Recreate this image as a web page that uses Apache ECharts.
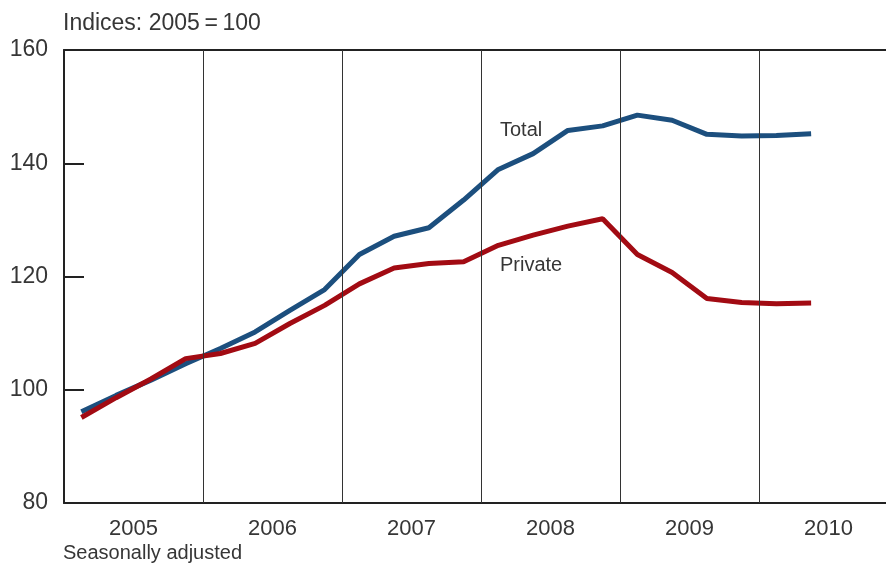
<!DOCTYPE html>
<html>
<head>
<meta charset="utf-8">
<script src="https://cdn.jsdelivr.net/npm/echarts@6/dist/echarts.min.js"></script>
<style>
html,body{margin:0;padding:0;background:#fff;}
#c{width:886px;height:565px;}
</style>
</head>
<body>
<div id="c"></div>
<script>
// Quarterly index values, 2005 Q1 to 2010 Q2 (2005 = 100)
var quarters = [
  '2005Q1','2005Q2','2005Q3','2005Q4',
  '2006Q1','2006Q2','2006Q3','2006Q4',
  '2007Q1','2007Q2','2007Q3','2007Q4',
  '2008Q1','2008Q2','2008Q3','2008Q4',
  '2009Q1','2009Q2','2009Q3','2009Q4',
  '2010Q1','2010Q2'
];
var totalValues = [
  96.1, 99.0, 101.7, 104.6,
  107.3, 110.2, 114.0, 117.7,
  123.9, 127.1, 128.6, 133.5,
  138.9, 141.7, 145.8, 146.6,
  148.5, 147.6, 145.1, 144.8,
  144.9, 145.2
];
var privateValues = [
  95.1, 98.6, 101.9, 105.5,
  106.4, 108.2, 111.7, 114.9,
  118.7, 121.5, 122.3, 122.6,
  125.5, 127.3, 128.9, 130.2,
  123.9, 120.7, 116.1, 115.4,
  115.2, 115.3
];
var yearLabels = ['2005','2006','2007','2008','2009','2010'];
var yearBoundaries = [2006, 2007, 2008, 2009, 2010];
var yTicks = [80, 100, 120, 140, 160];

function qToX(q) {
  var y = parseInt(q.slice(0, 4), 10);
  var n = parseInt(q.slice(5), 10);
  return y + (n - 0.5) / 4;
}
var totalData = quarters.map(function (q, i) { return [qToX(q), totalValues[i]]; });
var privateData = quarters.map(function (q, i) { return [qToX(q), privateValues[i]]; });

var FONT = 'Liberation Sans, Arial, sans-serif';
var TXT = '#363636';
var xMin = 2005, xMax = 2005 + 822 / 139;

var chart = echarts.init(document.getElementById('c'), null, {renderer: 'canvas'});
chart.setOption({
  animation: false,
  backgroundColor: '#ffffff',
  grid: {left: 64, right: 0, top: 50, bottom: 62},
  xAxis: [{
    type: 'value', min: xMin, max: xMax, interval: 0.5,
    axisLine: {show: true, lineStyle: {color: '#222', width: 2}},
    axisTick: {show: false},
    splitLine: {show: false},
    axisLabel: {
      showMinLabel: false, showMaxLabel: false,
      color: TXT, fontFamily: FONT, fontSize: 22, margin: 15,
      formatter: function (v) {
        if (Math.abs(v % 1 - 0.5) < 1e-6) {
          var idx = Math.floor(v) - 2005;
          return yearLabels[idx] || '';
        }
        return '';
      }
    }
  }, {
    type: 'value', position: 'top', min: xMin, max: xMax,
    axisLine: {show: true, lineStyle: {color: '#222', width: 2}},
    axisTick: {show: false}, axisLabel: {show: false}, splitLine: {show: false}
  }],
  yAxis: {
    type: 'value', min: yTicks[0], max: yTicks[yTicks.length - 1], interval: 20,
    axisLine: {show: true, lineStyle: {color: '#222', width: 2}},
    axisTick: {show: true, inside: true, length: 20, lineStyle: {color: '#222', width: 2}},
    splitLine: {show: false},
    axisLabel: {color: TXT, fontFamily: FONT, fontSize: 23, margin: 16}
  },
  series: [{
    name: 'Total', type: 'line', data: totalData, symbol: 'none',
    lineStyle: {color: '#1c4f7e', width: 5}, z: 3,
    markLine: {
      silent: true, symbol: 'none', label: {show: false},
      lineStyle: {color: '#333', width: 1, type: 'solid'},
      data: yearBoundaries.map(function (y) { return {xAxis: y}; })
    }
  }, {
    name: 'Private', type: 'line', data: privateData, symbol: 'none',
    lineStyle: {color: '#a20b13', width: 5}, z: 4
  }],
  graphic: [
    {type: 'text', left: 63, top: 12, style: {text: 'Indices: 2005\u2009=\u2009100', fill: TXT, font: '23px ' + FONT}},
    {type: 'text', left: 63, top: 543, style: {text: 'Seasonally adjusted', fill: TXT, font: '20px ' + FONT}},
    {type: 'text', left: 500, top: 120, style: {text: 'Total', fill: TXT, font: '20px ' + FONT}},
    {type: 'text', left: 500, top: 255, style: {text: 'Private', fill: TXT, font: '20px ' + FONT}}
  ]
});
</script>
</body>
</html>
